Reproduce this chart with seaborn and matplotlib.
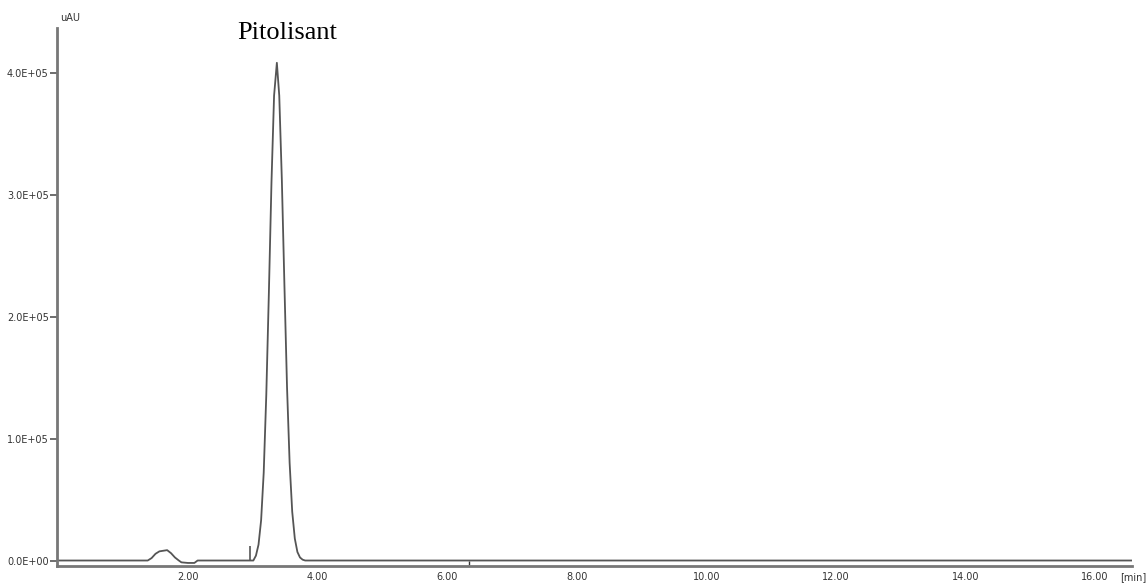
import numpy as np
import pandas as pd
import matplotlib
matplotlib.use('Agg')
import matplotlib.pyplot as plt
import seaborn as sns

# retention time (min) and detector signal (uAU)
time = [-0.02, 1.38, 1.44, 1.50, 1.56, 1.62, 1.68, 1.74, 1.80, 1.86,
        1.90, 2.00, 2.10, 2.15,
        3.01, 3.05, 3.09, 3.13, 3.17, 3.21, 3.25, 3.29, 3.33, 3.373,
        3.41, 3.45, 3.49, 3.53, 3.57, 3.61, 3.65, 3.69, 3.73, 3.77, 3.81,
        16.57]
signal = [0, 0, 2000, 5500, 7500, 8000, 8500, 6000, 2500, 0,
          -1500, -2000, -2000, 0,
          0, 4000, 13000, 33000, 72000, 136000, 220000, 310000, 381000, 408000,
          381000, 312000, 225000, 142000, 80000, 40000, 18000, 7000, 2500, 700, 0,
          0]

event_times = [2.96]          # integration event marker
event_height = 12000
axis_mark = 6.34              # small mark on the time axis

peak_name = 'Pitolisant'
peak_label_pos = (3.53, 4.32e5)

y_ticks = [0, 1e5, 2e5, 3e5, 4e5]
x_ticks = [2, 4, 6, 8, 10, 12, 14, 16]

df = pd.DataFrame({'time': time, 'signal': signal})

sns.set_style('white')
fig = plt.figure(figsize=(11.48, 5.83), dpi=100)
ax = fig.add_axes([57 / 1148, 17 / 583, (1132 - 57) / 1148, (566 - 28) / 583])

trace_col = '#555555'
sns.lineplot(data=df, x='time', y='signal', ax=ax, color=trace_col,
             linewidth=1.3, sort=False, estimator=None)
ax.vlines(event_times, 0, event_height, color=trace_col, linewidth=1.2)
ax.vlines([axis_mark], -4000, 0, color='#333333', linewidth=1.0)

ax.set_xlim(-0.02, 16.57)
ax.set_ylim(-4500, 4.365e5)

ax.set_yticks(y_ticks)
ax.set_yticklabels(['%.1fE+%02d' % (v / 1e5 if v else 0, 5 if v else 0) for v in y_ticks])
ax.set_xticks(x_ticks)
ax.set_xticklabels(['%.2f' % v for v in x_ticks])
ax.tick_params(axis='y', length=5, width=1.2, color='#555555', labelsize=7,
               labelcolor='#333333', pad=1, left=True)
ax.tick_params(axis='x', length=0, labelsize=7, labelcolor='#333333', pad=4)

for s in ['top', 'right']:
    ax.spines[s].set_visible(False)
for s in ['left', 'bottom']:
    ax.spines[s].set_color('#777777')
    ax.spines[s].set_linewidth(2)

ax.set_xlabel('')
ax.set_ylabel('')

# axis unit labels placed like the instrument software does
fig.text(60 / 1148, 1 - 18 / 583, 'uAU', fontsize=7, color='#333333', va='center', ha='left')
fig.text(1146 / 1148, 1 - 577 / 583, '[min]', fontsize=7, color='#333333', va='center', ha='right')

ax.text(peak_label_pos[0], peak_label_pos[1], peak_name, family='Liberation Serif',
        fontsize=19, ha='center', va='center', color='black', clip_on=False)

fig.savefig('out.png', dpi=100)
